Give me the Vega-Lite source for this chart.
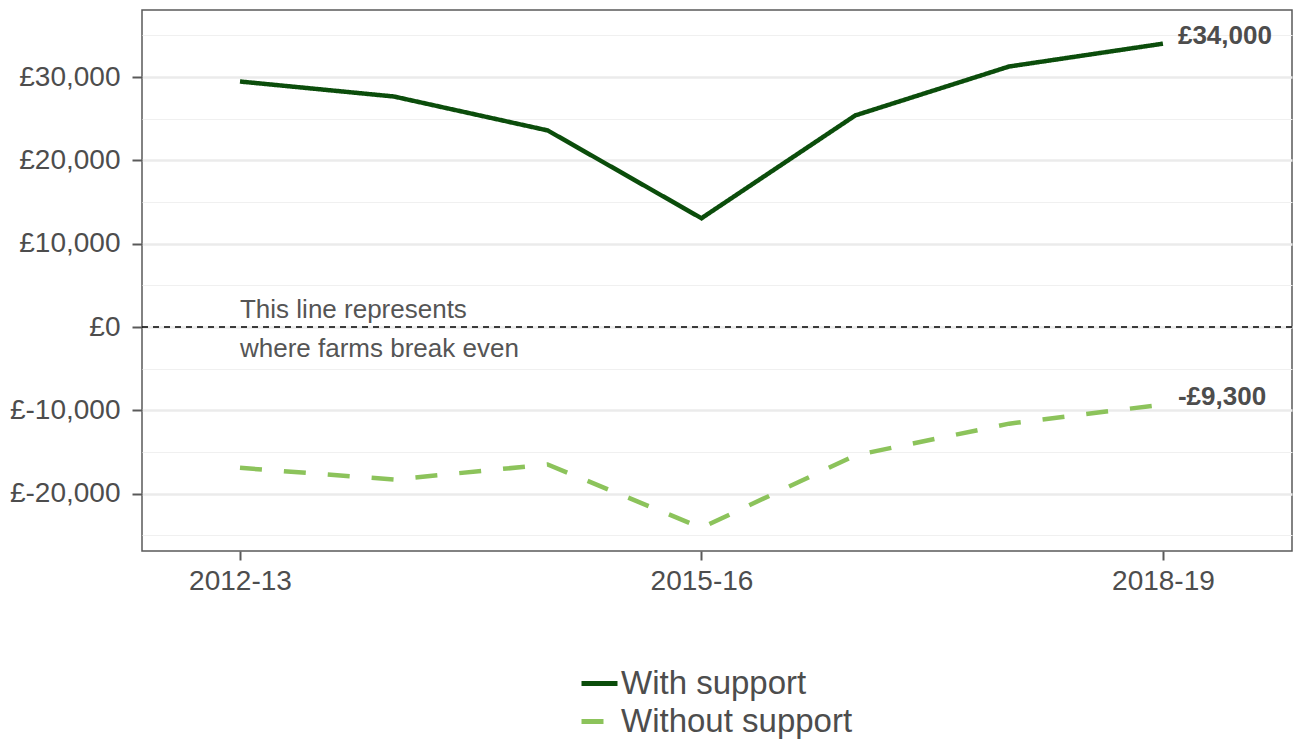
{
  "$schema": "https://vega.github.io/schema/vega-lite/v6.json",
  "width": 1150,
  "height": 541,
  "autosize": "none",
  "padding": {"left": 142, "top": 10, "right": 1, "bottom": 189},
  "background": "white",
  "config": {
    "font": "Liberation Sans",
    "view": {"stroke": "#5a5a5a", "strokeWidth": 1.5},
    "axis": {"domain": false, "labelFont": "Liberation Sans", "labelColor": "#4d4d4d", "tickColor": "#5a5a5a", "tickWidth": 2}
  },
  "datasets": {
    "profit": [
      {"year": 2012, "series": "With support", "value": 29460},
      {"year": 2013, "series": "With support", "value": 27660},
      {"year": 2014, "series": "With support", "value": 23590},
      {"year": 2015, "series": "With support", "value": 13050},
      {"year": 2016, "series": "With support", "value": 25390},
      {"year": 2017, "series": "With support", "value": 31260},
      {"year": 2018, "series": "With support", "value": 34000},
      {"year": 2012, "series": "Without support", "value": -16900},
      {"year": 2013, "series": "Without support", "value": -18300},
      {"year": 2014, "series": "Without support", "value": -16500},
      {"year": 2015, "series": "Without support", "value": -24100},
      {"year": 2016, "series": "Without support", "value": -15400},
      {"year": 2017, "series": "Without support", "value": -11600},
      {"year": 2018, "series": "Without support", "value": -9300}
    ],
    "endLabels": [
      {"year": 2018, "series": "With support", "value": 34000, "label": "£34,000"},
      {"year": 2018, "series": "Without support", "value": -9300, "label": "-£9,300"}
    ],
    "zero": [
      {"year": 2012, "value": 0, "note": "This line represents|where farms break even"}
    ]
  },
  "layer": [
    {
      "data": {"name": "zero"},
      "mark": {"type": "rule", "color": "black", "strokeWidth": 1.5, "strokeDash": [6, 5]},
      "encoding": {"y": {"field": "value", "type": "quantitative"}}
    },
    {
      "data": {"name": "zero"},
      "mark": {"type": "text", "align": "left", "baseline": "middle", "fontSize": 26, "color": "#555555", "lineBreak": "|", "lineHeight": 39, "dy": -17},
      "encoding": {
        "x": {"field": "year", "type": "quantitative"},
        "y": {"field": "value", "type": "quantitative"},
        "text": {"field": "note"}
      }
    },
    {
      "data": {"name": "profit"},
      "mark": {"type": "line", "strokeWidth": 4.5, "strokeCap": "butt"},
      "encoding": {
        "x": {
          "field": "year", "type": "quantitative",
          "scale": {"domain": [2011.363, 2018.839], "nice": false, "zero": false},
          "axis": {"title": null, "grid": false, "values": [2012, 2015, 2018], "labelExpr": "datum.value + '-' + ((datum.value + 1) % 100)", "labelFontSize": 28, "tickSize": 9, "labelPadding": 7}
        },
        "y": {
          "field": "value", "type": "quantitative",
          "scale": {"domain": [-26880, 38040], "nice": false, "zero": false},
          "axis": {
            "title": null,
            "values": [-25000, -20000, -15000, -10000, -5000, 0, 5000, 10000, 15000, 20000, 25000, 30000, 35000],
            "labelExpr": "datum.value % 10000 === 0 ? (datum.value < 0 ? '£-' + format(-datum.value, ',') : '£' + format(datum.value, ',')) : ''",
            "labelFontSize": 28,
            "tickSize": 10,
            "labelPadding": 12,
            "tickOpacity": {"condition": {"test": "datum.value % 10000 === 0", "value": 1}, "value": 0},
            "grid": true,
            "gridColor": {"condition": {"test": "datum.value % 10000 === 0", "value": "#ebebeb"}, "value": "#f0f0f0"},
            "gridWidth": {"condition": {"test": "datum.value % 10000 === 0", "value": 2.5}, "value": 1.2}
          }
        },
        "color": {
          "field": "series", "type": "nominal",
          "scale": {"domain": ["With support", "Without support"], "range": ["#0b4d0b", "#8cc35b"]},
          "legend": {
            "title": null, "orient": "none", "legendX": 437, "legendY": 653,
            "direction": "vertical", "symbolType": "stroke", "symbolSize": 1296, "symbolStrokeWidth": 5,
            "labelFontSize": 33, "labelColor": "#4d4d4d", "labelOffset": 1, "rowPadding": 0, "labelLimit": 0
          }
        },
        "strokeDash": {
          "field": "series", "type": "nominal",
          "scale": {"domain": ["With support", "Without support"], "range": [[1, 0], [22, 22]]},
          "legend": {
            "title": null, "orient": "none", "legendX": 437, "legendY": 653,
            "direction": "vertical", "symbolType": "stroke", "symbolSize": 1296, "symbolStrokeWidth": 5,
            "labelFontSize": 33, "labelColor": "#4d4d4d", "labelOffset": 1, "rowPadding": 0, "labelLimit": 0
          }
        }
      }
    },
    {
      "data": {"name": "endLabels"},
      "mark": {"type": "text", "align": "left", "baseline": "middle", "fontSize": 26, "fontWeight": "bold", "color": "#4d4d4d", "dx": 15, "dy": -8},
      "encoding": {
        "x": {"field": "year", "type": "quantitative"},
        "y": {"field": "value", "type": "quantitative"},
        "text": {"field": "label"}
      }
    }
  ]
}
